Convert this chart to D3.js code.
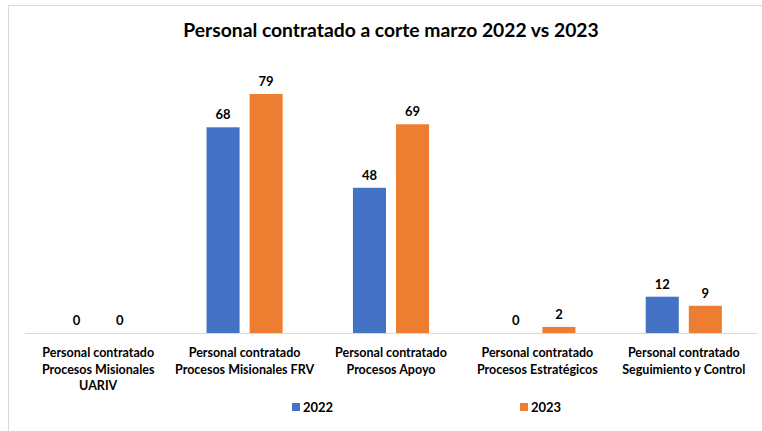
<!DOCTYPE html>
<html>
<head>
<meta charset="utf-8">
<script src="https://cdn.jsdelivr.net/npm/d3@7"></script>
<style>
  html, body { margin: 0; padding: 0; background: #fff; }
  svg { display: block; font-family: Lato, "Open Sans", sans-serif; }
</style>
</head>
<body>
<svg id="Target" width="762" height="431"></svg>
<script>
// chart data
const categories = [
  ["Personal contratado", "Procesos Misionales", "UARIV"],
  ["Personal contratado", "Procesos Misionales FRV"],
  ["Personal contratado", "Procesos Apoyo"],
  ["Personal contratado", "Procesos Estratégicos"],
  ["Personal contratado", "Seguimiento y Control"]
];
const seriesNames = ["2022", "2023"];
const values2022 = [0, 68, 48, 0, 12];
const values2023 = [0, 79, 69, 2, 9];
const colors = ["#4472C4", "#ED7D31"];

const svg = d3.select("#Target");
const width = 762, height = 431;

// outer frame
svg.append("rect")
    .attr("x", 8.5).attr("y", 5.5)
    .attr("width", 770).attr("height", 440)
    .attr("fill", "#fff")
    .attr("stroke", "#d9d9d9");

svg.append("text")
    .attr("x", 391).attr("y", 37)
    .attr("text-anchor", "middle")
    .attr("font-size", 19.3)
    .attr("font-weight", "bold")
    .attr("fill", "#000")
    .text("Personal contratado a corte marzo 2022 vs 2023");

const idx = d3.range(categories.length);

const x0 = d3.scaleBand()
    .domain(idx)
    .range([25, 757])
    .paddingInner(0.48)
    .paddingOuter(0.24);

const x1 = d3.scaleBand()
    .domain(seriesNames)
    .range([0, x0.bandwidth()])
    .paddingInner(0.233);

const y = d3.scaleLinear()
    .domain([0, 80])
    .range([333, 91]);

const rows = idx.map(i => ({
  i,
  vals: [
    {key: seriesNames[0], value: values2022[i], color: colors[0]},
    {key: seriesNames[1], value: values2023[i], color: colors[1]}
  ]
}));

const group = svg.selectAll("g.cat")
    .data(rows)
    .join("g")
    .attr("class", "cat")
    .attr("transform", d => `translate(${x0(d.i)},0)`);

group.selectAll("rect")
    .data(d => d.vals)
    .join("rect")
    .attr("x", d => x1(d.key))
    .attr("y", d => y(d.value))
    .attr("width", x1.bandwidth())
    .attr("height", d => y(0) - y(d.value))
    .attr("fill", d => d.color);

group.selectAll("text.val")
    .data(d => d.vals)
    .join("text")
    .attr("class", "val")
    .attr("x", d => x1(d.key) + x1.bandwidth() / 2)
    .attr("y", d => y(d.value) - 8)
    .attr("text-anchor", "middle")
    .attr("font-size", 13)
    .attr("font-weight", "bold")
    .attr("fill", "#000")
    .text(d => d.value);

// baseline axis
const xAxis = d3.axisBottom(x0).tickSize(0).tickFormat("");
const axisG = svg.append("g")
    .attr("transform", `translate(0,${y(0)})`)
    .call(xAxis);
axisG.select(".domain").attr("stroke", "#d9d9d9").attr("d", "M25,0.5H757");

// category labels
const lab = svg.selectAll("text.cat-label")
    .data(rows)
    .join("text")
    .attr("class", "cat-label")
    .attr("text-anchor", "middle")
    .attr("font-size", 12.5)
    .attr("font-weight", "bold")
    .attr("fill", "#000");

lab.selectAll("tspan")
    .data(d => categories[d.i].map(t => ({t, cx: x0(d.i) + x0.bandwidth() / 2})))
    .join("tspan")
    .attr("x", d => d.cx)
    .attr("y", (d, k) => 357 + k * 16.5)
    .text(d => d.t);

// legend
const legendX = [292, 520];
const legend = svg.selectAll("g.legend")
    .data(seriesNames)
    .join("g")
    .attr("class", "legend")
    .attr("transform", (d, k) => `translate(${legendX[k]},403)`);

legend.append("rect")
    .attr("width", 8).attr("height", 8)
    .attr("fill", (d, k) => colors[k]);

legend.append("text")
    .attr("x", 11).attr("y", 8.5)
    .attr("font-size", 13)
    .attr("font-weight", "bold")
    .attr("fill", "#000")
    .text(d => d);
</script>
</body>
</html>
